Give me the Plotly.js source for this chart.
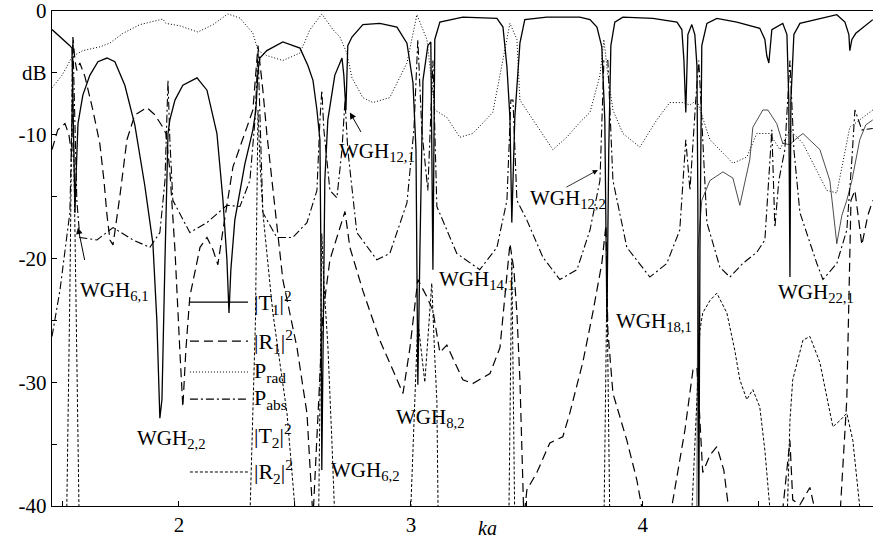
<!DOCTYPE html>
<html><head><meta charset="utf-8">
<script src="https://cdn.plot.ly/plotly-3.0.1.min.js"></script>
<style>html,body{margin:0;padding:0;background:#fff}#chart{width:873px;height:543px}</style>
</head><body><div id="chart"></div>
<script>
// |T1|^2 (solid)
const kaT1 = [1.453,1.496,1.530,1.539,1.543,1.547,1.552,1.556,1.565,1.586,1.616,1.651,1.690,1.724,1.767,1.810,1.853,1.888,1.905,1.918,1.927,1.940,1.948,1.953,1.961,1.983,2.017,2.078,2.121,2.164,2.190,2.207,2.216,2.224,2.241,2.284,2.319,2.332,2.341,2.349,2.379,2.448,2.522,2.556,2.578,2.595,2.608,2.612,2.616,2.621,2.629,2.642,2.672,2.703,2.711,2.720,2.728,2.746,2.793,2.866,2.940,2.983,3.009,3.022,3.030,3.039,3.052,3.073,3.086,3.095,3.103,3.125,3.224,3.371,3.397,3.414,3.427,3.435,3.448,3.470,3.491,3.586,3.728,3.772,3.802,3.823,3.836,3.845,3.853,3.862,3.879,3.914,4.043,4.147,4.168,4.177,4.185,4.194,4.211,4.224,4.233,4.237,4.241,4.246,4.254,4.276,4.319,4.405,4.504,4.526,4.534,4.543,4.556,4.603,4.621,4.629,4.634,4.638,4.651,4.677,4.763,4.836,4.871,4.888,4.892,4.901,4.918,4.991];
const dbT1 = [-1.5,-2.2,-2.8,-3.0,-7.2,-13.7,-16.3,-13.7,-9.1,-6.8,-5.2,-4.1,-3.8,-4.1,-6.0,-9.2,-14.1,-18.8,-25.0,-32.9,-31.4,-20.1,-12.0,-9.9,-8.8,-7.2,-6.0,-5.4,-6.4,-9.9,-15.3,-20.1,-24.4,-20.9,-16.9,-12.4,-9.6,-8.0,-4.8,-3.8,-3.2,-2.5,-3.0,-4.4,-5.6,-8.0,-10.4,-19.3,-37.1,-27.4,-13.7,-8.8,-5.2,-3.8,-5.2,-8.0,-2.8,-2.1,-1.1,-1.0,-1.3,-2.6,-5.8,-11.2,-30.2,-19.3,-5.6,-2.8,-2.5,-20.9,-2.3,-0.9,-0.5,-0.6,-1.3,-4.5,-8.6,-17.1,-8.6,-2.6,-0.7,-0.5,-0.5,-0.7,-1.3,-2.9,-8.8,-25.0,-11.2,-2.8,-0.9,-0.5,-0.6,-0.9,-1.5,-4.0,-8.2,-1.9,-1.1,-1.9,-4.4,-15.3,-42,-19.3,-2.8,-1.0,-0.6,-0.9,-1.4,-2.3,-3.6,-4.2,-1.5,-1.0,-1.9,-7.2,-21.5,-7.2,-1.9,-1.0,-0.6,-0.3,-0.9,-1.9,-3.2,-2.3,-1.8,-0.7];

// |R1|^2 (long dash)
const kaR1 = [1.453,1.478,1.509,1.526,1.539,1.543,1.552,1.560,1.573,1.595,1.629,1.659,1.677,1.690,1.703,1.716,1.728,1.746,1.776,1.810,1.862,1.897,1.931,1.944,1.961,1.983,2.004,2.017,2.030,2.047,2.091,2.121,2.147,2.168,2.190,2.233,2.293,2.319,2.341,2.362,2.379,2.405,2.448,2.509,2.552,2.578,2.595,2.621,2.651,2.681,2.716,2.737,2.793,2.866,2.940,2.966,2.996,3.030,3.069,3.095,3.125,3.155,3.224,3.267,3.341,3.384,3.405,3.427,3.444,3.457,3.470,3.487,3.500,3.543,3.599,3.655,3.685,3.741,3.784,3.823,3.841,3.849,3.871,3.931,3.974,4.004,4.116,4.138,4.181,4.216,4.233,4.246,4.258,4.289,4.319,4.349,4.375,4.599,4.621,4.634,4.646,4.677,4.720,4.750,4.849,4.879,4.897,4.914,4.944,4.970,4.991];
const dbR1 = [-11.2,-9.6,-9.1,-10.0,-11.8,-2.1,-4.0,-4.8,-4.2,-5.3,-8.0,-10.7,-13.7,-16.5,-18.5,-18.9,-17.3,-14.9,-10.4,-8.4,-7.8,-8.4,-9.4,-9.9,-12.9,-19.3,-27.4,-32.0,-27.4,-23.1,-19.1,-18.3,-19.3,-20.5,-17.7,-12.6,-9.4,-8.0,-2.8,-6.4,-9.9,-14.5,-21.7,-27.2,-32.5,-41,-33.9,-24.4,-20.1,-18.3,-16.2,-19.1,-22.6,-26.6,-29.8,-30.9,-27.2,-21.7,-23.1,-24.2,-27.6,-27.0,-29.8,-30.1,-29.3,-27.2,-23.1,-18.8,-20.9,-24.4,-29.8,-41,-38.7,-37.3,-34.9,-34.4,-32.5,-28.4,-24.4,-20.4,-17.3,-25.8,-30.9,-34.7,-37.9,-41,-41,-38.7,-33.9,-29.0,-28.8,-33.1,-37.3,-35.9,-35.2,-37.1,-41,-41,-37.1,-34.7,-39.5,-39.9,-38.5,-41,-41,-31.4,-15.3,-14.5,-18.9,-16.5,-15.3];

// P_rad (dotted)
const kaPrad = [1.453,1.496,1.517,1.539,1.586,1.659,1.702,1.759,1.832,1.931,1.944,2.004,2.082,2.147,2.211,2.263,2.319,2.341,2.379,2.448,2.522,2.565,2.616,2.664,2.694,2.724,2.746,2.793,2.836,2.909,2.983,3.026,3.069,3.103,3.155,3.211,3.267,3.353,3.427,3.457,3.470,3.526,3.612,3.672,3.728,3.772,3.815,3.832,3.849,3.871,3.914,3.987,4.060,4.116,4.172,4.203,4.233,4.289,4.388,4.448,4.491,4.547,4.590,4.634,4.690,4.793,4.836,4.892,4.991];
const dbPrad = [-6.2,-5.2,-4.5,-3.7,-3.2,-2.9,-2.6,-1.8,-1.1,-0.65,-1.0,-1.2,-1.7,-1.1,-0.24,-0.57,-1.8,-3.2,-3.6,-4.0,-3.4,-1.5,-0.24,-1.5,-2.1,-3.4,-5.4,-7.0,-7.4,-7.0,-4.2,-0.3,-2.3,-8.0,-8.6,-10.2,-9.9,-8.2,-1.0,-2.3,-7.2,-8.8,-11.2,-10.2,-9.0,-8.2,-5.2,-2.3,-5.2,-8.0,-9.9,-11.0,-8.8,-7.4,-7.4,-7.6,-7.2,-10.4,-12.3,-11.8,-9.9,-9.9,-11.2,-9.6,-10.7,-14.5,-14.7,-9.4,-8.0];

// P_abs (dash-dot)
const kaPabs = [1.453,1.487,1.530,1.539,1.543,1.552,1.560,1.573,1.647,1.716,1.802,1.875,1.918,1.940,1.948,1.953,1.961,1.974,2.047,2.121,2.207,2.263,2.306,2.328,2.341,2.349,2.362,2.422,2.491,2.552,2.595,2.608,2.616,2.625,2.651,2.681,2.703,2.716,2.728,2.767,2.853,2.909,2.983,3.013,3.030,3.047,3.073,3.095,3.112,3.198,3.297,3.371,3.414,3.431,3.440,3.457,3.500,3.569,3.642,3.716,3.772,3.815,3.832,3.849,3.871,3.931,4.030,4.103,4.159,4.185,4.203,4.228,4.241,4.254,4.276,4.332,4.375,4.431,4.491,4.526,4.543,4.556,4.569,4.586,4.612,4.634,4.651,4.677,4.750,4.776,4.836,4.879,4.901,4.914,4.944,4.991];
const dbPabs = [-26.3,-22.6,-16.3,-8.8,-2.3,-8.8,-15.3,-18.3,-18.5,-17.5,-18.5,-19.1,-17.9,-13.7,-7.2,-5.6,-10.4,-15.3,-17.9,-17.1,-15.7,-15.8,-13.7,-8.8,-3.2,-8.8,-16.3,-18.3,-18.3,-17.1,-14.5,-8.8,-6.4,-9.6,-14.5,-15.1,-11.2,-7.2,-11.2,-17.9,-20.1,-19.6,-15.5,-9.6,-2.3,-9.6,-14.5,-4.0,-15.8,-19.6,-20.9,-19.1,-15.3,-7.2,-7.2,-15.3,-16.9,-19.9,-21.7,-20.9,-17.7,-13.7,-4.0,-4.0,-13.7,-19.1,-21.5,-20.4,-17.7,-10.4,-14.5,-7.2,-4.0,-8.8,-17.1,-20.7,-21.5,-20.4,-19.5,-18.5,-12.9,-9.6,-17.5,-13.7,-11.2,-4.0,-11.2,-16.3,-20.4,-21.7,-20.4,-17.7,-12.0,-8.0,-9.6,-9.5];

// |T2|^2 (thin solid)
const kaT2 = [4.232,4.237,4.254,4.289,4.345,4.388,4.418,4.440,4.461,4.474,4.517,4.539,4.577,4.603,4.634,4.655,4.690,4.763,4.806,4.836,4.858,4.879,4.901,4.935,4.961,4.991];
const dbT2 = [-45,-19.3,-15.3,-13.7,-13.0,-13.5,-15.7,-13.7,-12.0,-9.4,-8.0,-8.0,-9.1,-10.7,-10.8,-10.4,-9.9,-11.2,-13.7,-18.8,-16.5,-15.3,-13.7,-10.4,-9.2,-8.8];

// |R2|^2 (short dash)
const kaR2 = [1.453,1.513,1.530,1.541,1.556,1.573,2.300,2.330,2.341,2.349,2.362,2.405,2.466,2.500,2.522,2.600,2.612,2.616,2.625,2.642,2.660,2.680,2.990,3.030,3.060,3.090,3.103,3.112,3.120,3.420,3.435,3.450,3.830,3.845,3.860,4.200,4.233,4.246,4.258,4.289,4.319,4.362,4.396,4.418,4.448,4.474,4.504,4.526,4.547,4.560,4.616,4.634,4.646,4.690,4.720,4.763,4.819,4.849,4.879,4.905,4.935,4.948,4.991];
const dbR2 = [-45,-45,-22.8,-4.0,-22.8,-45,-45,-25,-8,-12,-16.3,-24.4,-32.5,-40,-45,-45,-25,-18,-22,-27,-35,-45,-45,-25,-30,-22,-28,-31.5,-45,-45,-20,-45,-45,-22,-45,-45,-31.4,-25.8,-24.4,-23.4,-22.8,-24.4,-27.4,-29.8,-31.4,-30.6,-32.0,-35.5,-40.1,-45,-45,-33.1,-29.8,-26.6,-26.3,-28.4,-33.6,-33.1,-32.5,-34.7,-40.1,-45,-45];

const yTickVals = [0,-5,-10,-15,-20,-25,-30,-35,-40];
const yTickText = ["0","dB","-10","","-20","","-30","","-40"];
const xTickVals = [1.5,2,2.5,3,3.5,4,4.5];
const xTickText = ["","2","","3","","4",""];

const legendItems = [
  {name:"|T<sub>1</sub>|<sup>2</sup>", dash:"solid", w:1.2, y:0.412},
  {name:"|R<sub>1</sub>|<sup>2</sup>", dash:"9px,5px", w:1.2, y:0.333},
  {name:"P<sub>rad</sub>", dash:"1px,2px", w:1, y:0.2707},
  {name:"P<sub>abs</sub>", dash:"8px,3px,2px,3px", w:1.2, y:0.216},
  {name:"|T<sub>2</sub>|<sup>2</sup>", dash:null, w:0, y:0.1434},
  {name:"|R<sub>2</sub>|<sup>2</sup>", dash:"3px,2px", w:1, y:0.0687}
];

const labels = [
  {t:"WGH<sub>6,1</sub>", ka:1.565, db:-22.6},
  {t:"WGH<sub>2,2</sub>", ka:1.810, db:-34.6},
  {t:"WGH<sub>6,2</sub>", ka:2.647, db:-37.2},
  {t:"WGH<sub>8,2</sub>", ka:2.927, db:-32.9},
  {t:"WGH<sub>14,1</sub>", ka:3.112, db:-21.7},
  {t:"WGH<sub>12,1</sub>", ka:2.680, db:-11.4},
  {t:"WGH<sub>12,2</sub>", ka:3.505, db:-15.2},
  {t:"WGH<sub>18,1</sub>", ka:3.875, db:-25.1},
  {t:"WGH<sub>22,1</sub>", ka:4.573, db:-22.8}
];

const serif = "Liberation Serif, Times New Roman, serif";
function tr(x,y,dash,w){return {x:x,y:y,mode:"lines",type:"scatter",line:{color:"#000",width:w,dash:dash},hoverinfo:"skip",showlegend:false};}
const data = [
  tr(kaPrad,dbPrad,"1px,2px",1),
  tr(kaPabs,dbPabs,"8px,3px,2px,3px",1.1),
  tr(kaR2,dbR2,"3px,2px",1),
  tr(kaR1,dbR1,"9px,5px",1.2),
  tr(kaT2,dbT2,"solid",0.7),
  tr(kaT1,dbT1,"solid",1.3)
];

const shapes = [];
const annotations = [];
legendItems.forEach(it=>{
  if(it.dash){shapes.push({type:"line",xref:"paper",yref:"paper",x0:0.168,x1:0.2387,y0:it.y,y1:it.y,line:{color:"#000",width:it.w,dash:it.dash}});}
  annotations.push({xref:"paper",yref:"paper",x:0.2436,y:it.y,xanchor:"left",yanchor:"middle",text:it.name,showarrow:false,font:{family:serif,size:22,color:"#000"}});
});
labels.forEach(l=>{
  annotations.push({xref:"x",yref:"y",x:l.ka,y:l.db,xanchor:"left",yanchor:"middle",text:l.t,showarrow:false,font:{family:serif,size:21,color:"#000"}});
});
// arrows
annotations.push({xref:"x",yref:"y",x:1.565,y:-17.5,ax:7,ay:34,text:"",showarrow:true,arrowhead:2,arrowsize:1.3,arrowwidth:1,arrowcolor:"#000"});
annotations.push({xref:"x",yref:"y",x:2.737,y:-8.2,ax:12,ay:21,text:"",showarrow:true,arrowhead:2,arrowsize:1.3,arrowwidth:1,arrowcolor:"#000"});
annotations.push({xref:"x",yref:"y",x:3.806,y:-12.85,ax:-33,ay:18,text:"",showarrow:true,arrowhead:2,arrowsize:1.3,arrowwidth:0.8,arrowcolor:"#000"});
// axis title
annotations.push({xref:"x",yref:"paper",x:3.33,y:0,yanchor:"top",yshift:-9,text:"<i>ka</i>",showarrow:false,font:{family:serif,size:20,color:"#000"}});

const layout = {
  width:873,height:543,
  margin:{l:52,r:0,t:11,b:37,pad:0},
  paper_bgcolor:"#fff",plot_bgcolor:"#fff",
  showlegend:false,
  xaxis:{range:[1.453,4.992],showgrid:false,zeroline:false,showline:true,mirror:true,linecolor:"#000",linewidth:1.2,
    ticks:"inside",ticklen:5,tickcolor:"#000",tickvals:xTickVals,ticktext:xTickText,ticklabeloverflow:"allow",tickfont:{family:serif,size:21,color:"#000"}},
  yaxis:{range:[-40,0],showgrid:false,zeroline:false,showline:true,mirror:true,linecolor:"#000",linewidth:1.2,
    ticks:"inside",ticklen:5,tickcolor:"#000",tickvals:yTickVals,ticktext:yTickText,ticklabeloverflow:"allow",tickfont:{family:serif,size:21,color:"#000"}},
  shapes:shapes,annotations:annotations
};
Plotly.newPlot("chart",data,layout,{staticPlot:true,displayModeBar:false});
</script></body></html>
